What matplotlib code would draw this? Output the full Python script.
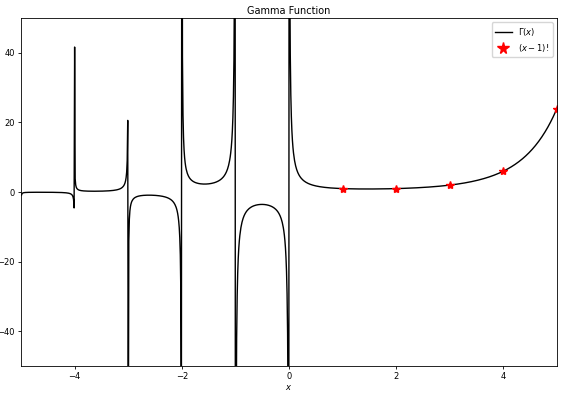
import math
import numpy as np
import matplotlib
matplotlib.use('Agg')
import matplotlib.pyplot as plt


def gamma_or_nan(v):
    try:
        return math.gamma(v)
    except ValueError:
        return np.nan


# curve samples: the gamma function on a 1000-point grid
x_curve = np.linspace(-5, 5, 1000)
y_curve = np.array([gamma_or_nan(v) for v in x_curve])

# factorial markers
x_fact = [1, 2, 3, 4, 5]
y_fact = [1, 1, 2, 6, 24]

plt.rcParams['font.size'] = 6

fig = plt.figure(figsize=(5.75, 3.94), dpi=100)
ax = fig.add_axes([0.0365, 0.071, 0.932, 0.883])
ax.plot(x_curve, y_curve, 'k', linewidth=1.0, label=r'$\Gamma(x)$')
ax.plot(x_fact, y_fact, 'r*', markersize=6, label=r'$(x-1)!$')
ax.set_xlim(-5, 5)
ax.set_ylim(-50, 50)
ax.set_xticks([-4, -2, 0, 2, 4])
ax.set_yticks([-40, -20, 0, 20, 40])
ax.set_xlabel(r'$x$', labelpad=1)
ax.set_title('Gamma Function', pad=3, fontsize=7)
ax.tick_params(length=2.5, width=0.6, pad=2)
for s in ax.spines.values():
    s.set_linewidth(0.6)
ax.legend(loc='upper right', fontsize=6, markerscale=1.4)

fig.savefig('out.png', dpi=100)
